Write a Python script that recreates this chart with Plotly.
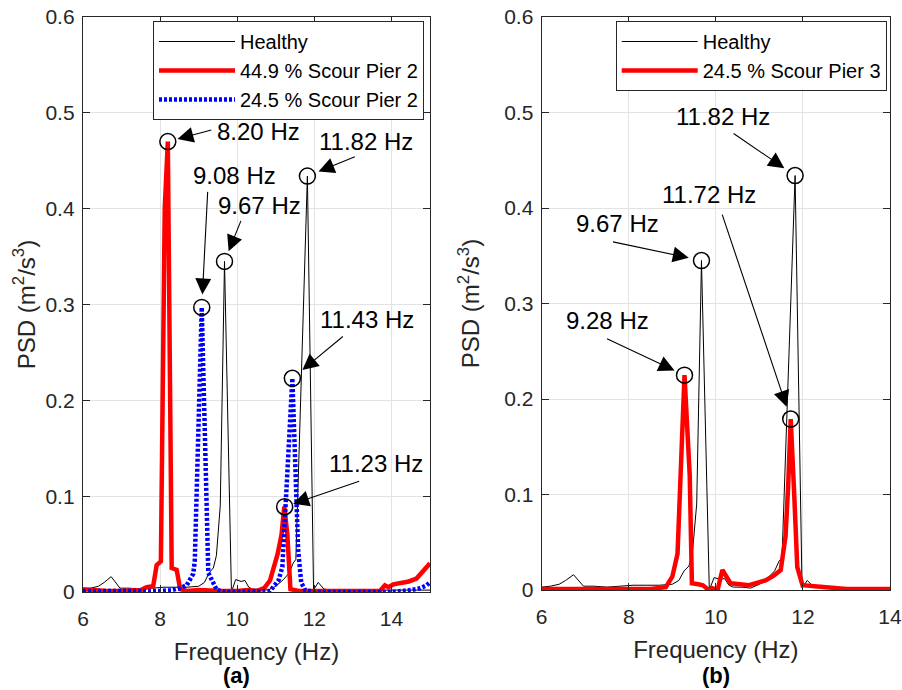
import plotly.graph_objects as go

# ---------------- data ----------------
# Healthy PSD (same signal in both panels)
healthy_f = [6.0, 6.2, 6.4, 6.55, 6.73, 6.85, 6.96, 7.2, 7.5, 7.8, 8.1, 8.4, 8.7, 9.0,
             9.15, 9.27, 9.38, 9.46, 9.56, 9.67, 9.85, 9.96, 10.1, 10.2, 10.3, 10.4,
             10.6, 10.8, 11.0, 11.2, 11.35, 11.45, 11.52, 11.82, 11.98, 12.1, 12.25,
             12.5, 13.0, 13.5, 14.0, 14.5, 15.0]
healthy_v = [0.003, 0.004, 0.006, 0.010, 0.016, 0.010, 0.004, 0.004, 0.003, 0.004, 0.005,
             0.005, 0.005, 0.006, 0.010, 0.020, 0.025, 0.038, 0.090, 0.345, 0.000, 0.013,
             0.011, 0.012, 0.005, 0.003, 0.003, 0.002, 0.006, 0.013, 0.020, 0.030, 0.034,
             0.434, 0.002, 0.010, 0.003, 0.002, 0.002, 0.002, 0.002, 0.002, 0.002]

# 44.9 % scour at pier 2
s449p2_f = [6.0, 6.3, 6.6, 7.0, 7.3, 7.5, 7.65, 7.82, 7.91, 8.02, 8.12, 8.20, 8.30, 8.43,
            8.52, 8.7, 9.0, 9.3, 9.6, 10.0, 10.3, 10.5, 10.7, 10.85, 10.94, 11.05, 11.15,
            11.22, 11.3, 11.38, 11.6, 12.0, 12.5, 13.0, 13.5, 13.7, 13.83, 13.92, 14.05,
            14.22, 14.45, 14.65, 14.83, 15.0]
s449p2_v = [0.003, 0.002, 0.001, 0.001, 0.002, 0.002, 0.005, 0.006, 0.028, 0.032, 0.400,
            0.470, 0.025, 0.023, 0.003, 0.001, 0.002, 0.001, 0.001, 0.001, 0.002, 0.001,
            0.004, 0.012, 0.023, 0.040, 0.060, 0.089, 0.060, 0.003, 0.001, 0.001, 0.001,
            0.002, 0.001, 0.001, 0.007, 0.005, 0.008, 0.009, 0.011, 0.014, 0.023, 0.030]

# 24.5 % scour at pier 2
s245p2_f = [6.0, 6.5, 7.0, 7.5, 8.0, 8.3, 8.52, 8.69, 8.86, 8.9, 9.08, 9.25, 9.47, 9.7,
            10.0, 10.5, 10.85, 10.95, 11.07, 11.17, 11.3, 11.43, 11.58, 11.66, 11.76,
            12.0, 12.5, 13.0, 13.5, 14.0, 14.5, 14.75, 14.91, 15.0]
s245p2_v = [0.001, 0.001, 0.000, 0.001, 0.001, 0.002, 0.004, 0.007, 0.019, 0.033, 0.297,
            0.020, 0.002, 0.000, 0.000, 0.000, 0.001, 0.006, 0.012, 0.026, 0.120, 0.223,
            0.044, 0.010, 0.002, 0.000, 0.000, 0.000, 0.000, 0.000, 0.002, 0.004, 0.007,
            0.010]

# 24.5 % scour at pier 3
s245p3_f = [6.0, 6.3, 6.6, 6.9, 7.5, 8.0, 8.5, 8.85, 9.0, 9.12, 9.28, 9.4, 9.45, 9.6,
            9.7, 9.84, 9.92, 10.04, 10.15, 10.34, 10.76, 11.14, 11.33, 11.49, 11.6, 11.66,
            11.72, 11.8, 11.87, 11.99, 12.29, 12.6, 13.0, 13.5, 14.0]
s245p3_v = [0.001, 0.001, 0.002, 0.001, 0.001, 0.001, 0.001, 0.003, 0.014, 0.038, 0.225,
            0.120, 0.007, 0.006, 0.005, 0.000, 0.002, 0.000, 0.021, 0.007, 0.005, 0.010,
            0.015, 0.021, 0.056, 0.108, 0.179, 0.100, 0.024, 0.005, 0.004, 0.002, 0.001,
            0.001, 0.001]

# labelled peaks
peaks_a_f = [8.20, 9.08, 9.67, 11.82, 11.43, 11.23]
peaks_a_v = [0.470, 0.297, 0.345, 0.434, 0.223, 0.089]
peaks_b_f = [11.82, 11.72, 9.67, 9.28]
peaks_b_v = [0.434, 0.179, 0.345, 0.225]

# peak label text positions (data coords) and arrow tail offsets (px)
labels_a = ["8.20 Hz", "9.08 Hz", "9.67 Hz", "11.82 Hz", "11.43 Hz", "11.23 Hz"]
labels_a_f = [10.54, 9.94, 10.59, 13.33, 13.37, 13.59]
labels_a_v = [0.481, 0.435, 0.403, 0.470, 0.284, 0.134]
arrows_a_ax = [45, 6, 17, 49, 52, 76]
arrows_a_ay = [-12, -117, -42, -20, -43, -26]
arrows_a_so = [10, 13, 11, 12, 13, 9]

labels_b = ["11.82 Hz", "11.72 Hz", "9.67 Hz", "9.28 Hz"]
labels_b_f = [10.17, 9.84, 7.73, 7.50]
labels_b_v = [0.496, 0.414, 0.384, 0.282]
arrows_b_ax = [-63, -69, -90, -79]
arrows_b_ay = [-43, -206, -19, -37]
arrows_b_so = [13, 13, 13, 11]

xticks_a = [6, 8, 10, 12, 14]
xticks_b = [6, 8, 10, 12, 14]
yticks = [0, 0.1, 0.2, 0.3, 0.4, 0.5, 0.6]
ytick_text = ["0", "0.1", "0.2", "0.3", "0.4", "0.5", "0.6"]

# ---------------- figure ----------------
FONT = "Arial, Liberation Sans, Helvetica, sans-serif"
DARK = "#262626"
W, H = 902, 690

fig = go.Figure()

fig.add_trace(go.Scatter(x=healthy_f, y=healthy_v, mode="lines", name="Healthy",
                         line=dict(color="black", width=1), xaxis="x", yaxis="y",
                         legend="legend"))
fig.add_trace(go.Scatter(x=s449p2_f, y=s449p2_v, mode="lines", name="44.9 % Scour Pier 2",
                         line=dict(color="#ff0000", width=4.5), xaxis="x", yaxis="y",
                         legend="legend"))
fig.add_trace(go.Scatter(x=s245p2_f, y=s245p2_v, mode="lines", name="24.5 % Scour Pier 2",
                         line=dict(color="#0000ff", width=4.5, dash="3px,2px"),
                         xaxis="x", yaxis="y", legend="legend"))
fig.add_trace(go.Scatter(x=peaks_a_f, y=peaks_a_v, mode="markers", showlegend=False,
                         marker=dict(symbol="circle-open", size=16, color="black",
                                     line=dict(width=1.5, color="black")),
                         cliponaxis=False, xaxis="x", yaxis="y"))

fig.add_trace(go.Scatter(x=healthy_f, y=healthy_v, mode="lines", name="Healthy",
                         line=dict(color="black", width=1), xaxis="x2", yaxis="y2",
                         legend="legend2"))
fig.add_trace(go.Scatter(x=s245p3_f, y=s245p3_v, mode="lines", name="24.5 % Scour Pier 3",
                         line=dict(color="#ff0000", width=4.5), xaxis="x2", yaxis="y2",
                         legend="legend2"))
fig.add_trace(go.Scatter(x=peaks_b_f, y=peaks_b_v, mode="markers", showlegend=False,
                         marker=dict(symbol="circle-open", size=16, color="black",
                                     line=dict(width=1.5, color="black")),
                         cliponaxis=False, xaxis="x2", yaxis="y2"))

axis_common = dict(
    ticks="inside", ticklen=7, tickwidth=1.3, tickcolor=DARK,
    showline=True, linecolor=DARK, linewidth=1.3, mirror="ticks",
    showgrid=True, gridcolor="#e3e3e3", gridwidth=1, zeroline=False,
    tickfont=dict(family=FONT, size=21, color=DARK), automargin=False,
)

xa_dom = [83 / W, 430 / W]
xb_dom = [541.7 / W, 890 / W]
ya_dom = [1 - 592 / H, 1 - 17 / H]
yb_dom = [1 - 590 / H, 1 - 17 / H]

xtitle_font = dict(family=FONT, size=24, color=DARK)
ytitle_font = dict(family=FONT, size=24, color=DARK)

fig.update_layout(
    width=W, height=H,
    margin=dict(l=0, r=0, t=0, b=0),
    paper_bgcolor="white", plot_bgcolor="white",
    font=dict(family=FONT, color=DARK),
    xaxis=dict(domain=xa_dom, range=[6, 15], tickvals=xticks_a, anchor="y",
               ticklabelstandoff=8,
               title=dict(text="Frequency (Hz)", font=xtitle_font, standoff=13),
               **axis_common),
    yaxis=dict(domain=ya_dom, range=[0, 0.6], tickvals=yticks, ticktext=ytick_text, anchor="x",
               ticklabelstandoff=3,
               title=dict(text="PSD (m<sup>2</sup>/s<sup>3</sup>)", font=ytitle_font, standoff=3),
               **axis_common),
    xaxis2=dict(domain=xb_dom, range=[6, 14], tickvals=xticks_b, anchor="y2",
                ticklabelstandoff=8,
                title=dict(text="Frequency (Hz)", font=xtitle_font, standoff=13),
                **axis_common),
    yaxis2=dict(domain=yb_dom, range=[0, 0.6], tickvals=yticks, ticktext=ytick_text, anchor="x2",
                ticklabelstandoff=3,
                title=dict(text="PSD (m<sup>2</sup>/s<sup>3</sup>)", font=ytitle_font, standoff=17),
                **axis_common),
    legend=dict(x=424 / W, xanchor="right", y=1 - 21 / H, yanchor="top",
                bgcolor="white", bordercolor=DARK, borderwidth=1, itemwidth=76,
                font=dict(family=FONT, size=20, color="black"), tracegroupgap=0),
    legend2=dict(x=886.7 / W, xanchor="right", y=1 - 21 / H, yanchor="top",
                 bgcolor="white", bordercolor=DARK, borderwidth=1, itemwidth=76,
                 font=dict(family=FONT, size=20, color="black"), tracegroupgap=0),
    showlegend=True,
)

annotations = []
for i in range(len(peaks_a_f)):
    annotations.append(dict(x=peaks_a_f[i], y=peaks_a_v[i], xref="x", yref="y", text="",
                            showarrow=True, arrowhead=2, arrowsize=2.9, arrowwidth=1.1,
                            arrowcolor="black", ax=arrows_a_ax[i], ay=arrows_a_ay[i],
                            standoff=arrows_a_so[i]))
    annotations.append(dict(x=labels_a_f[i], y=labels_a_v[i], xref="x", yref="y",
                            text=labels_a[i], showarrow=False, xanchor="center", yanchor="middle",
                            font=dict(family=FONT, size=24, color="black")))
for i in range(len(peaks_b_f)):
    annotations.append(dict(x=peaks_b_f[i], y=peaks_b_v[i], xref="x2", yref="y2", text="",
                            showarrow=True, arrowhead=2, arrowsize=2.9, arrowwidth=1.1,
                            arrowcolor="black", ax=arrows_b_ax[i], ay=arrows_b_ay[i],
                            standoff=arrows_b_so[i]))
    annotations.append(dict(x=labels_b_f[i], y=labels_b_v[i], xref="x2", yref="y2",
                            text=labels_b[i], showarrow=False, xanchor="center", yanchor="middle",
                            font=dict(family=FONT, size=24, color="black")))

annotations.append(dict(x=236 / W, y=1 - 675 / H, xref="paper", yref="paper", text="<b>(a)</b>",
                        xanchor="center", yanchor="middle",
                        showarrow=False, font=dict(family=FONT, size=22, color="black")))
annotations.append(dict(x=716 / W, y=1 - 675 / H, xref="paper", yref="paper", text="<b>(b)</b>",
                        xanchor="center", yanchor="middle",
                        showarrow=False, font=dict(family=FONT, size=22, color="black")))
fig.update_layout(annotations=annotations)

fig.write_html("out.html")
